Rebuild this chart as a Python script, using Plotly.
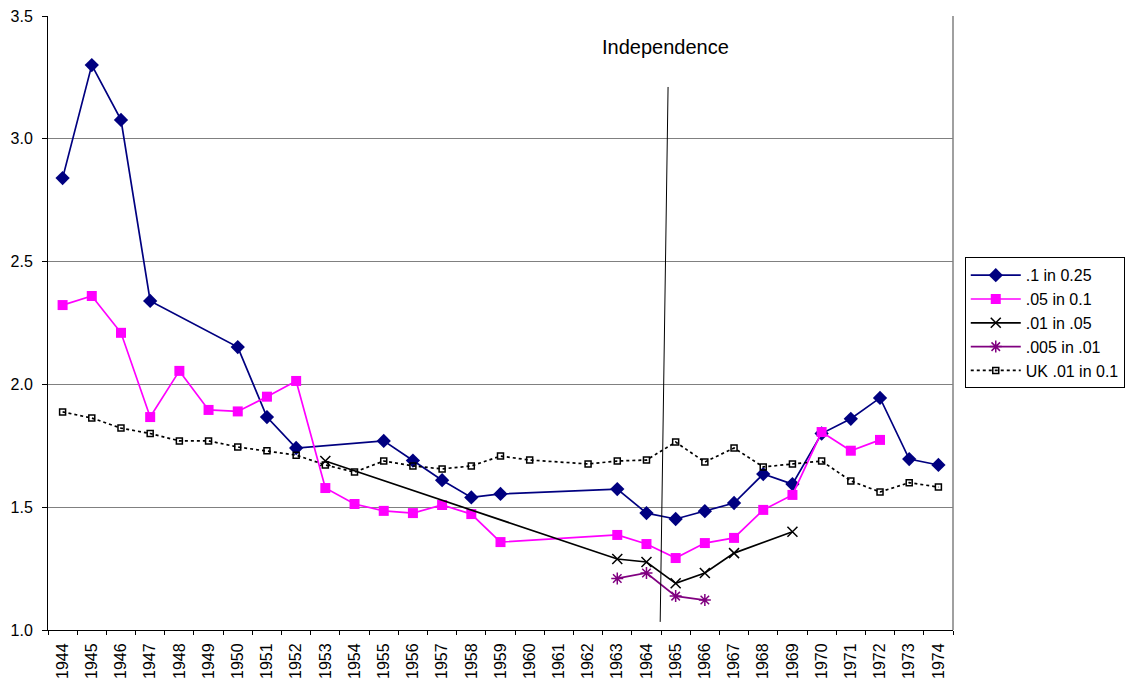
import plotly.graph_objects as go

years = [str(y) for y in range(1944, 1975)]

blue_years = [1944, 1945, 1946, 1947, 1950, 1951, 1952, 1955, 1956, 1957, 1958, 1959,
              1963, 1964, 1965, 1966, 1967, 1968, 1969, 1970, 1971, 1972, 1973, 1974]
blue_vals = [2.84, 3.30, 3.077, 2.34, 2.152, 1.867, 1.741, 1.77, 1.69, 1.61, 1.54, 1.554,
             1.574, 1.476, 1.452, 1.484, 1.517, 1.635, 1.594, 1.80, 1.86, 1.945, 1.696, 1.672]

pink_years = [1944, 1945, 1946, 1947, 1948, 1949, 1950, 1951, 1952, 1953, 1954, 1955, 1956,
              1957, 1958, 1959, 1963, 1964, 1965, 1966, 1967, 1968, 1969, 1970, 1971, 1972]
pink_vals = [2.323, 2.36, 2.21, 1.867, 2.055, 1.896, 1.89, 1.95, 2.014, 1.578, 1.513, 1.485,
             1.476, 1.509, 1.472, 1.358, 1.387, 1.35, 1.293, 1.354, 1.375, 1.489, 1.55,
             1.806, 1.73, 1.774]

black_years = [1953, 1963, 1964, 1965, 1966, 1967, 1969]
black_vals = [1.688, 1.289, 1.277, 1.19, 1.232, 1.313, 1.40]

purple_years = [1963, 1964, 1965, 1966]
purple_vals = [1.21, 1.232, 1.138, 1.122]

uk_years = [1944, 1945, 1946, 1947, 1948, 1949, 1950, 1951, 1952, 1953, 1954, 1955, 1956,
            1957, 1958, 1959, 1960, 1962, 1963, 1964, 1965, 1966, 1967, 1968, 1969, 1970,
            1971, 1972, 1973, 1974]
uk_vals = [1.888, 1.863, 1.822, 1.80, 1.77, 1.77, 1.745, 1.73, 1.712, 1.672, 1.643, 1.688,
           1.668, 1.656, 1.668, 1.708, 1.692, 1.676, 1.688, 1.692, 1.765, 1.684, 1.741,
           1.664, 1.676, 1.688, 1.607, 1.562, 1.60, 1.582]

FONT = "Liberation Sans, Arial, sans-serif"

fig = go.Figure()

def s(yrs):
    return [str(y) for y in yrs]

fig.add_trace(go.Scatter(x=s(blue_years), y=blue_vals, name=".1 in 0.25", mode="lines+markers",
                         line=dict(color="#000080", width=1.7),
                         marker=dict(symbol="diamond", size=11, color="#000080")))
fig.add_trace(go.Scatter(x=s(pink_years), y=pink_vals, name=".05 in 0.1", mode="lines+markers",
                         line=dict(color="#FF00FF", width=1.7),
                         marker=dict(symbol="square", size=10, color="#FF00FF")))
fig.add_trace(go.Scatter(x=s(black_years), y=black_vals, name=".01 in .05", mode="lines+markers",
                         line=dict(color="#000000", width=1.7),
                         marker=dict(symbol="x-thin", size=10, color="#000000",
                                     line=dict(color="#000000", width=1.5))))
fig.add_trace(go.Scatter(x=s(purple_years), y=purple_vals, name=".005 in .01", mode="lines+markers",
                         line=dict(color="#800080", width=1.7),
                         marker=dict(symbol="asterisk-open", size=10, color="#800080",
                                     line=dict(color="#800080", width=1.5))))
fig.add_trace(go.Scatter(x=s(uk_years), y=uk_vals, name="UK .01 in 0.1", mode="lines+markers",
                         line=dict(color="#000000", width=1.7, dash="dot"),
                         marker=dict(symbol="square-open", size=6, color="#000000",
                                     line=dict(color="#000000", width=1.5))))

# Independence marker line and label
fig.add_shape(type="line", xref="x", yref="y", x0=20.74, y0=3.211, x1=20.47, y1=1.033,
              line=dict(color="#000000", width=1))
fig.add_annotation(x=20.64, y=3.374, xref="x", yref="y", text="Independence", showarrow=False,
                   font=dict(family=FONT, size=20, color="#000000"))

fig.update_layout(
    width=1141, height=684,
    margin=dict(l=48, r=188, t=16, b=54, autoexpand=False),
    paper_bgcolor="white", plot_bgcolor="white",
    font=dict(family=FONT, color="#000000"),
    showlegend=True,
    legend=dict(x=1.013, y=0.607, xanchor="left", yanchor="top",
                bordercolor="#000000", borderwidth=1, bgcolor="white",
                font=dict(family=FONT, size=16), tracegroupgap=0, itemwidth=50),
)
fig.update_xaxes(type="category", categoryorder="array", categoryarray=years,
                 range=[-0.5, 30.5], tickson="boundaries", ticks="outside", ticklen=4,
                 tickcolor="#000000", tickangle=-90, tickfont=dict(family=FONT, size=16),
                 ticklabelstandoff=6,
                 showline=True, linecolor="#000000", linewidth=1, showgrid=False,
                 mirror=False, automargin=False)
fig.update_yaxes(range=[1.0, 3.5], tickvals=[1.0, 1.5, 2.0, 2.5, 3.0, 3.5],
                 ticktext=["1.0", "1.5", "2.0", "2.5", "3.0", "3.5"],
                 ticks="outside", ticklen=5, tickcolor="#000000",
                 tickfont=dict(family=FONT, size=16), ticklabelstandoff=6,
                 showline=True, linecolor="#000000", linewidth=1,
                 showgrid=True, gridcolor="#808080", gridwidth=1, zeroline=False,
                 automargin=False)
# right gray border of plot area
fig.add_shape(type="line", xref="paper", yref="paper", x0=1, x1=1, y0=0, y1=1,
              line=dict(color="#808080", width=1.5))

fig.write_html("out.html", config={"displayModeBar": False},
               post_script="document.body.style.margin='0px';")
